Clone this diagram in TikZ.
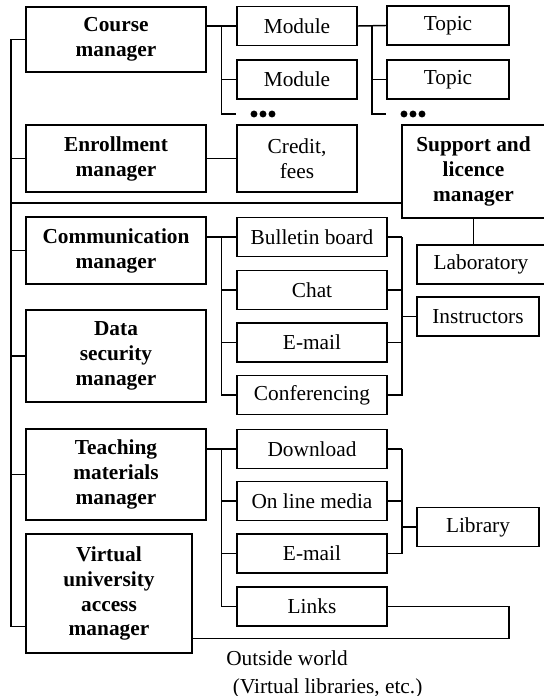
\documentclass[tikz,border=0pt]{standalone}
\usepackage{fontspec}
\setmainfont{Liberation Serif}
\usetikzlibrary{positioning,calc}

\begin{document}
\begin{tikzpicture}[x=0.75pt, y=-0.75pt,
  box/.style={rectangle, draw=black, line width=1.3pt, inner sep=0pt,
              font=\fontsize{16}{18.7}\selectfont, align=center},
  mgr/.style={box, font=\fontsize{16}{18.7}\selectfont\bfseries, minimum width=135pt},
  item/.style={box, minimum width=112.5pt, minimum height=29.25pt},
  leaf/.style={box, minimum width=90pt, minimum height=29.25pt},
  link/.style={line width=1.1pt},
  more/.style={inner sep=0pt, minimum width=20pt, minimum height=6pt,
               path picture={\foreach \i in {-1,0,1}
                 \fill ($(path picture bounding box.center)+(\i*6.75pt,0)$) circle (2.6pt);}},
]
\useasboundingbox (0,0) rectangle (543,696);

% managers
\node[mgr, minimum height=48.75pt] (course)  at (116,39.5)  {Course\\manager};
\node[mgr, minimum height=50pt]    (enroll)  at (116,158.5) {Enrollment\\manager};
\node[mgr, minimum height=50pt]    (comm)    at (116,250.5) {Communication\\manager};
\node[mgr, minimum height=69pt]    (datasec) at (116,356)   {Data\\security\\manager};
\node[mgr, minimum height=68pt]    (teach)   at (116,474.5) {Teaching\\materials\\manager};
\node[mgr, minimum height=89pt, minimum width=124.5pt] (vua) at (109,593.5)
     {Virtual\\university\\access\\manager};

% course contents
\node[leaf] (mod1)   at (297,26)   {Module};
\node[leaf] (mod2)   at (297,79.5) {Module};
\node[more] (moreA)  at (263,114)  {};
\node[leaf, minimum width=91.5pt] (topic1) at (448,25.5) {Topic};
\node[leaf, minimum width=91.5pt] (topic2) at (448,79.5) {Topic};
\node[more] (moreB)  at (413,114)  {};
\node[leaf, minimum height=50pt] (credit) at (297,158.5) {Credit,\\fees};

% support
\node[mgr, minimum width=107pt, minimum height=70pt] (support) at (473.5,171.5)
     {Support and\\licence\\manager};
\node[leaf, minimum width=96pt]   (lab)   at (481,264.5) {Laboratory};
\node[leaf, minimum width=91.5pt] (instr) at (478,316.5) {Instructors};

% communication tools
\node[item] (bulletin) at (312,237)   {Bulletin board};
\node[item] (chat)     at (312,290)   {Chat};
\node[item] (mailA)    at (312,342.5) {E-mail};
\node[item] (conf)     at (312,395)   {Conferencing};

% teaching tools
\node[item] (download) at (312,449)   {Download};
\node[item] (media)    at (312,501)   {On line media};
\node[item] (mailB)    at (312,553.5) {E-mail};
\node[item] (links)    at (312,606.5) {Links};
\node[leaf, minimum width=91.5pt] (library) at (478,527) {Library};

\node[font=\fontsize{16}{21}\selectfont, align=left, anchor=north west, inner sep=0pt]
     (outside) at (226,650) {Outside world\\\hspace{5pt}(Virtual libraries, etc.)};

% main bus
\coordinate (vuaIn)  at ($(vua.west)!0.55!(vua.south west)$);
\coordinate (vuaOut) at ($(vua.east)!0.75!(vua.south east)$);
\draw[link] (course.west) -- ++(-14,0) coordinate (busTop) |- (vuaIn);
\foreach \m in {enroll,comm,datasec,teach}
  \draw[link] (busTop |- \m.west) -- (\m.west);
\draw[link] (busTop |- 0,203) -- (support.west |- 0,203);

% course -> modules -> topics
\draw[link] (course.east |- mod1.west) -- (mod1.west);
\coordinate (cA) at ($(course.east)!0.5!(mod1.west)$);
\draw[link] (cA |- mod1.west) |- (mod1.west |- moreA);
\draw[link] (cA |- mod2.west) -- (mod2.west);
\draw[link] (mod1.east) -- (topic1.west);
\coordinate (cB) at ($(mod1.east)!0.5!(topic1.west)$);
\draw[link] (cB |- mod1.east) |- (topic1.west |- moreB);
\draw[link] (cB |- topic2.west) -- (topic2.west);
\draw[link] (enroll.east) -- (credit.west |- enroll.east);

% support -> laboratory
\draw[link] (support.south) -- (support.south |- lab.north);

% communication group
\draw[link] (comm.east |- bulletin.west) -- (bulletin.west);
\coordinate (cC) at ($(comm.east)!0.5!(bulletin.west)$);
\coordinate (cD) at ($(bulletin.east)!0.5!(instr.west)$);
\draw[link] (cC |- bulletin.west) |- (conf.west);
\draw[link] (cD |- bulletin.east) |- (conf.east);
\foreach \t in {bulletin,chat,mailA}
  \draw[link] (cC |- \t.west) -- (\t.west) (\t.east) -- (cD |- \t.east);
\draw[link] (cD |- instr.west) -- (instr.west);

% teaching group
\draw[link] (teach.east |- download.west) -- (download.west);
\draw[link] (cC |- download.west) |- (links.west);
\draw[link] (cD |- download.east) |- (mailB.east);
\foreach \t in {download,media,mailB}
  \draw[link] (cC |- \t.west) -- (\t.west) (\t.east) -- (cD |- \t.east);
\draw[link] (cD |- library.west) -- (library.west);

% links -> outside world
\draw[link] (links.east) -- ++(121,0) |- (vuaOut);

\end{tikzpicture}
\end{document}
